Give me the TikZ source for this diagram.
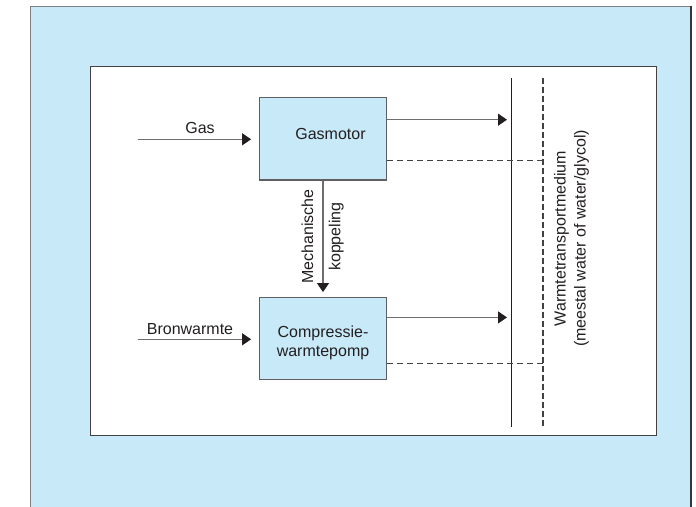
\documentclass[tikz,border=0pt]{standalone}
\usepackage{fontspec}
\setmainfont{Liberation Sans}
\usetikzlibrary{arrows.meta,calc}

\definecolor{paneblue}{RGB}{199,233,248}
\definecolor{inkblack}{RGB}{35,31,32}
\definecolor{flowgray}{RGB}{110,110,112}
\definecolor{edgegray}{RGB}{95,95,98}

\tikzset{
  txt/.style={font=\fontsize{16}{19.5}\selectfont, text=inkblack, inner sep=0pt},
  unit/.style={draw=edgegray, line width=1.2pt, fill=paneblue,
    minimum width=127.4pt, minimum height=82.3pt, inner sep=0pt},
  flow/.style={draw=flowgray, line width=1.2pt,
    -{Triangle[length=9pt,width=12pt,color=inkblack]}},
  retline/.style={draw=inkblack!85, line width=1.2pt, dash pattern=on 6pt off 4pt},
  busline/.style={draw=inkblack, line width=1.5pt},
  buslineret/.style={draw=inkblack!85, line width=1.2pt, dash pattern=on 5.5pt off 3.5pt},
}

\begin{document}
\begin{tikzpicture}[x=1pt,y=-1pt]
  \useasboundingbox (0,0) rectangle (696,506);
  \clip (0,0) rectangle (696,506);

  % outer panel and inner sheet
  \fill[paneblue] (30.7,6.3) rectangle (691,520);
  \draw[edgegray!80, line width=1.2pt] (30.7,520) -- (30.7,6.3) -- (691,6.3);
  \draw[inkblack!90, line width=1.3pt] (691,6.3) -- (691,520);
  \draw[fill=white, draw=inkblack!85, line width=1.3pt] (90.7,66.7) rectangle (656.7,435.3);

  % units
  \node[unit] (gm) at (323,138.9) {};
  \node[unit] (wp) at (323,338.3) {};
  \node[txt, anchor=base] (gmtxt) at ($(gm.center)+(7.5,0.5)$) {Gasmotor};
  % base of a two-line node is the baseline of its last line
  \node[txt, anchor=base, align=center] (wptxt) at ($(wp.center)+(0,18.3)$)
    {Compressie-\\warmtepomp};

  % heat transport medium: supply bus and dashed return
  \coordinate (bustop) at (511.7,78);
  \coordinate (busbot) at (511.7,427);
  \coordinate (rettop) at (543,78);
  \coordinate (retbot) at (543,428);
  \draw[busline] (bustop) -- (busbot);
  \draw[buslineret] (rettop) -- (retbot);

  % inputs
  \coordinate (gasin) at (138,139.3);
  \coordinate (bronin) at (138,339.3);
  \draw[flow, shorten >=7.6pt] (gasin) -- (gasin -| gm.west);
  \draw[flow, shorten >=7.6pt] (bronin) -- (bronin -| wp.west);
  \node[txt, anchor=base] (gaslbl) at ($(gasin)+(62,-6)$) {Gas};
  \node[txt, anchor=base] (bronlbl) at ($(bronin)+(52,-5)$) {Bronwarmte};

  % mechanical coupling
  \draw[flow, shorten >=4.5pt] (gm.south) -- (wp.north);
  \coordinate (mid) at ($(gm.south)!0.5!(wp.north)$);
  \node[txt, anchor=base, rotate=90] (mech) at ($(mid)+(-10,-2)$) {Mechanische};
  \node[txt, anchor=base, rotate=90] (kopp) at ($(mid)+(17.4,-2)$) {koppeling};

  % outputs to the bus, returns from the dashed line
  \coordinate (gmhot) at ($(gm.north east)!0.27!(gm.south east)$);
  \coordinate (gmret) at ($(gm.north east)!0.756!(gm.south east)$);
  \coordinate (wphot) at ($(wp.north east)!0.25!(wp.south east)$);
  \coordinate (wpret) at ($(wp.north east)!0.80!(wp.south east)$);
  \draw[flow, shorten >=4.7pt] (gmhot) -- (gmhot -| bustop);
  \draw[flow, shorten >=4.7pt] (wphot) -- (wphot -| bustop);
  \draw[retline] (gmret) -- (gmret -| rettop);
  \draw[retline] (wpret) -- (wpret -| rettop);

  % medium label
  \node[txt, anchor=base, rotate=90] (medium) at (565.7,238.5) {Warmtetransportmedium};
  \node[txt, anchor=base, rotate=90] (mediumnote) at (585.7,238.5) {(meestal water of water/glycol)};
\end{tikzpicture}
\end{document}
